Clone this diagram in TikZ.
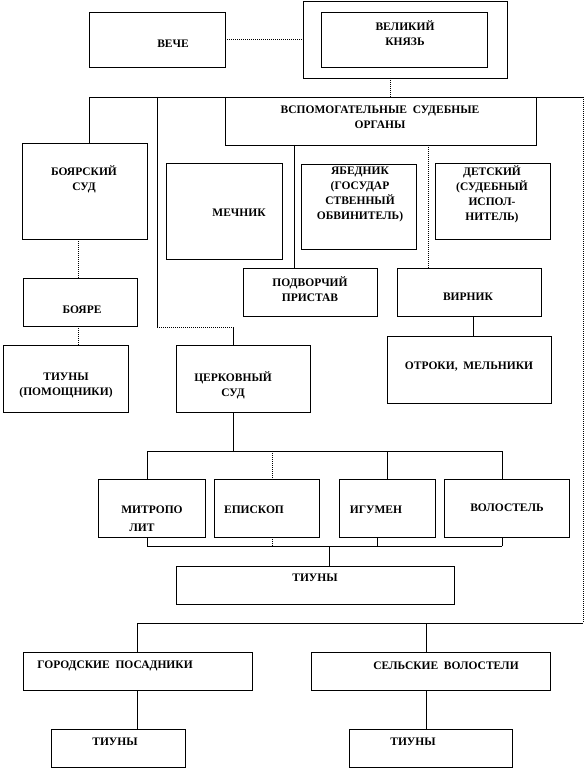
\documentclass[tikz,border=0pt]{standalone}
\usepackage{fontspec}
\setmainfont{Liberation Serif}
\usetikzlibrary{fit}
\tikzset{
  box/.style={draw, line width=0.8pt, inner sep=0pt, outer sep=0pt},
  txt/.style={font=\bfseries\fontsize{11.5}{15}\selectfont, align=center, inner sep=0pt},
  ln/.style={line width=0.8pt},
  dl/.style={line width=0.8pt, dash pattern=on 1pt off 1pt},
}
\newcommand\mkbox[5]{\node[box, fit={(#2,#3) (#4,#5)}] (#1) {};}
\begin{document}
\begin{tikzpicture}[x=1pt,y=-1pt]
\path[use as bounding box] (0,0) rectangle (585,770);
% boxes
\mkbox{veche}{89}{12}{225}{67}
\mkbox{knyazO}{303}{1}{507}{78}
\mkbox{knyazI}{321}{12}{487}{67}
\mkbox{vspom}{225}{97}{536}{145}
\mkbox{boyarsud}{22}{143}{147}{239}
\mkbox{mechnik}{166}{163}{282}{259}
\mkbox{yabednik}{301}{164}{416}{249}
\mkbox{detsky}{435}{163}{550}{239}
\mkbox{boyare}{23}{278}{137}{326}
\mkbox{tiunyP}{3}{345}{128}{412}
\mkbox{cerk}{176}{345}{310}{412}
\mkbox{podv}{243}{268}{377}{316}
\mkbox{virnik}{397}{268}{541}{316}
\mkbox{otroki}{387}{336}{551}{403}
\mkbox{mitr}{98}{479}{205}{537}
\mkbox{episk}{214}{479}{319}{537}
\mkbox{igumen}{339}{479}{435}{537}
\mkbox{volost}{444}{479}{569}{537}
\mkbox{tiuny}{176}{566}{454}{604}
\mkbox{gorod}{23}{652}{252}{690}
\mkbox{selsk}{311}{652}{550}{690}
\mkbox{tiunyL}{51}{729}{185}{767}
\mkbox{tiunyR}{349}{729}{512}{767}
% texts
\node[txt] (t-veche) at (173,44) {ВЕЧЕ};
\node[txt] (t-knyaz) at (405,33) {ВЕЛИКИЙ\\КНЯЗЬ};
\node[txt] (t-vspom) at (380,117.5) {ВСПОМОГАТЕЛЬНЫЕ\ \ СУДЕБНЫЕ\\ОРГАНЫ};
\node[txt] (t-boyarsud) at (84,179.5) {БОЯРСКИЙ\\СУД};
\node[txt] (t-mechnik) at (239,213) {МЕЧНИК};
\node[txt] (t-yabednik) at (360,194.5) {ЯБЕДНИК\\(ГОСУДАР\\СТВЕННЫЙ\\ОБВИНИТЕЛЬ)};
\node[txt] (t-detsky) at (492,194.5) {ДЕТСКИЙ\\(СУДЕБНЫЙ\\ИСПОЛ-\\НИТЕЛЬ)};
\node[txt] (t-boyare) at (82,310) {БОЯРЕ};
\node[txt] (t-tiunyP) at (66,385) {ТИУНЫ\\(ПОМОЩНИКИ)};
\node[txt] (t-cerk) at (233,385) {ЦЕРКОВНЫЙ\\СУД};
\node[txt] (t-podv) at (310,289.5) {ПОДВОРЧИЙ\\ПРИСТАВ};
\node[txt] (t-virnik) at (468,297) {ВИРНИК};
\node[txt] (t-otroki) at (469,367) {ОТРОКИ,\ \ МЕЛЬНИКИ};
\node[txt] (t-mitr1) at (152,510) {МИТРОПО};
\node[txt] (t-mitr2) at (142,528) {ЛИТ};
\node[txt] (t-episk) at (254,510) {ЕПИСКОП};
\node[txt] (t-igumen) at (376,510) {ИГУМЕН};
\node[txt] (t-volost) at (507,508) {ВОЛОСТЕЛЬ};
\node[txt] (t-tiuny) at (315,578) {ТИУНЫ};
\node[txt] (t-gorod) at (115,666) {ГОРОДСКИЕ\ \ ПОСАДНИКИ};
\node[txt] (t-selsk) at (446,666) {СЕЛЬСКИЕ\ \ ВОЛОСТЕЛИ};
\node[txt] (t-tiunyL) at (115,742) {ТИУНЫ};
\node[txt] (t-tiunyR) at (413,742) {ТИУНЫ};
% coordinates
\coordinate (k1) at (390,97);
\coordinate (busL) at (89,97);
\coordinate (busR) at (583,97);
\coordinate (c1) at (157,97);
\coordinate (c2) at (157,327);
\coordinate (c3) at (233,327);
\coordinate (v1) at (294,145);
\coordinate (v2) at (428,145);
\coordinate (b1) at (78,239);
\coordinate (b2) at (78,326);
\coordinate (vr) at (473,316);
\coordinate (ch) at (233,451);
\coordinate (chL) at (147,451);
\coordinate (chR) at (502,451);
\coordinate (chE) at (272,451);
\coordinate (chI) at (387,451);
\coordinate (clL) at (147,546);
\coordinate (clR) at (502,546);
\coordinate (clE) at (272,546);
\coordinate (clI) at (377,546);
\coordinate (clT) at (329,546);
\coordinate (lowR) at (583,623);
\coordinate (lowL) at (137,623);
\coordinate (lowS) at (426,623);
% connectors
\draw[dl] (veche.east) -- (veche.east -| knyazO.west);
\draw[dl] (knyazO.south -| k1) -- (k1);
\draw[ln] (busL) -- (busR);
\draw[ln] (busL) -- (busL |- boyarsud.north);
\draw[ln] (c1) -- (c2);
\draw[dl] (c2) -- (c3);
\draw[ln] (c3) -- (c3 |- cerk.north);
\draw[ln] (v1) -- (v1 |- podv.north);
\draw[dl] (v2) -- (v2 |- virnik.north);
\draw[dl] (busR) -- (lowR);
\draw[dl] (b1) -- (b1 |- boyare.north);
\draw[dl] (b2) -- (b2 |- tiunyP.north);
\draw[ln] (vr) -- (vr |- otroki.north);
\draw[ln] (cerk.south -| ch) -- (ch);
\draw[ln] (chL) -- (chR);
\draw[ln] (chL) -- (chL |- mitr.north);
\draw[dl] (chE) -- (chE |- episk.north);
\draw[ln] (chI) -- (chI |- igumen.north);
\draw[ln] (chR) -- (chR |- volost.north);
\draw[ln] (clL) -- (clR);
\draw[ln] (clL) -- (clL |- mitr.south);
\draw[dl] (clE) -- (clE |- episk.south);
\draw[ln] (clI) -- (clI |- igumen.south);
\draw[ln] (clR) -- (clR |- volost.south);
\draw[ln] (clT) -- (clT |- tiuny.north);
\draw[ln] (lowL) -- (lowR);
\draw[ln] (lowL) -- (lowL |- gorod.north);
\draw[ln] (lowS) -- (lowS |- selsk.north);
\draw[ln] (gorod.south -| lowL) -- (lowL |- tiunyL.north);
\draw[ln] (selsk.south -| lowS) -- (lowS |- tiunyR.north);
\end{tikzpicture}
\end{document}
